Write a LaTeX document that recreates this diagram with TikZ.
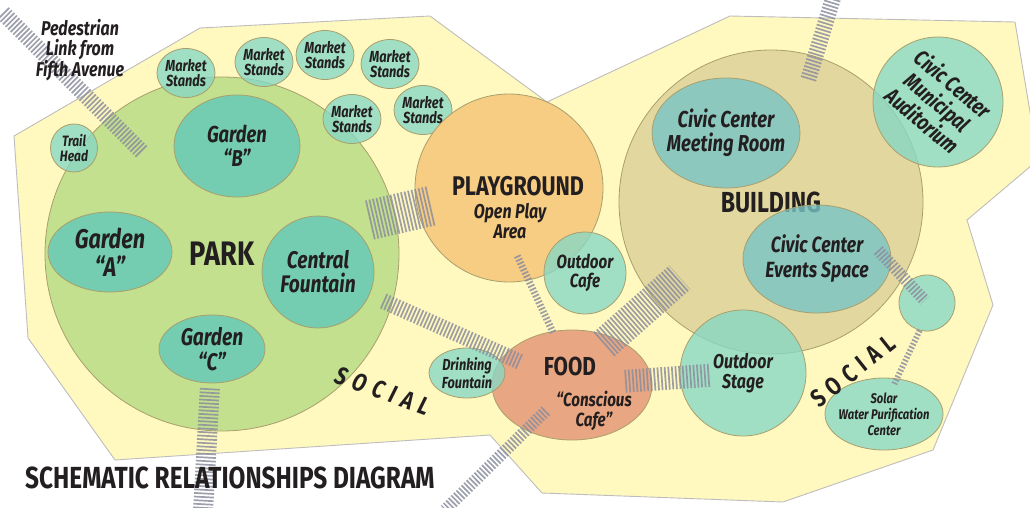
\documentclass[tikz,border=0pt]{standalone}
\usepackage{fontspec}
\setmainfont{Fira Sans}[FakeStretch=0.8]
\usetikzlibrary{shapes.geometric}

\definecolor{lotyellow}{HTML}{FFF8BF}
\definecolor{lotline}{HTML}{BDBDBD}
\definecolor{parkgreen}{HTML}{C2E08D}
\definecolor{gardenteal}{HTML}{74CDB0}
\definecolor{spotteal}{HTML}{86D8C6}
\definecolor{roomteal}{HTML}{79C5C7}
\definecolor{playorange}{HTML}{F7CC83}
\definecolor{buildtan}{HTML}{DCD29A}
\definecolor{foodsalmon}{HTML}{E9A682}
\definecolor{rimolive}{HTML}{A99F6C}
\definecolor{hatchgray}{HTML}{8C8E9E}
\definecolor{inkdark}{HTML}{231F20}

\newcommand{\fsz}[2]{\fontsize{#1}{#2}\selectfont}
\newcommand{\gap}{\hspace{7pt}}

\begin{document}
\begin{tikzpicture}[x=1pt, y=-1pt,
        rim/.style={draw=rimolive, line width=0.8pt},
        spot/.style={rim, ellipse, fill=spotteal, fill opacity=0.78, text opacity=1,
            inner sep=-20pt, align=center, text=inkdark},
        room/.style={spot, fill=roomteal, fill opacity=0.8},
        garden/.style={spot, fill=gardenteal, fill opacity=1},
        stand/.style={spot, minimum width=58pt, minimum height=49pt,
            font=\bfseries\itshape\fsz{16}{15}},
        lbl/.style={text=inkdark, align=center, inner sep=0pt},
        stripes/.style={draw=hatchgray, draw opacity=0.85, line width=#1,
            dash pattern=on 1.7pt off 1.9pt}]
\useasboundingbox (0,0) rectangle (1030,508);

% site outline
\draw[lotline, fill=lotyellow, line width=0.9pt] (14,136) -- (200,28) -- (430,16) -- (547,102)
    -- (730,16) -- (1015,22) -- (1038,160) -- (967,220) -- (993,305) -- (933,450)
    -- (783,502) -- (542,493) -- (490,435) -- (115,460) -- (28,338) -- cycle;

% park
\node[rim, circle, fill=parkgreen, minimum size=354pt, inner sep=0pt, text=inkdark,
    font=\bfseries\fsz{34}{34}] (park) at (222,254) {PARK};
\node[garden, minimum width=126pt, minimum height=102pt, font=\bfseries\itshape\fsz{23}{24}]
    (gardenB) at (237,146) {Garden\\``B''};
\node[garden, minimum width=124pt, minimum height=80pt, font=\bfseries\itshape\fsz{27}{28}]
    (gardenA) at (110,252) {Garden\\``A''};
\node[garden, minimum width=112pt, minimum height=112pt, font=\bfseries\itshape\fsz{24}{24}]
    (fountain) at (318,272) {Central\\Fountain};
\node[garden, minimum width=106pt, minimum height=68pt, font=\bfseries\itshape\fsz{24}{25}]
    (gardenC) at (212,349) {Garden\\``C''};
\node[spot, minimum width=47pt, minimum height=48pt, font=\bfseries\itshape\fsz{15}{15}]
    (trail) at (74,148) {Trail\\Head};

% market stands
\node[stand] (stand1) at (186,73) {Market\\Stands};
\node[stand] (stand2) at (264,62) {Market\\Stands};
\node[stand] (stand3) at (325,55) {Market\\Stands};
\node[stand] (stand4) at (390,64) {Market\\Stands};
\node[stand] (stand5) at (352,119) {Market\\Stands};
\node[stand] (stand6) at (423,110) {Market\\Stands};

% playground and building
\node[rim, circle, fill=playorange, minimum size=188pt, inner sep=0pt] (play) at (509,188) {};
\node[spot, minimum width=82pt, minimum height=82pt, font=\bfseries\itshape\fsz{19}{19}]
    (cafe) at (585,273) {Outdoor\\Cafe};
\node[rim, circle, fill=buildtan, fill opacity=0.85, text opacity=1, minimum size=304pt,
    inner sep=0pt, text=inkdark, font=\bfseries\fsz{29}{29}] (building) at (771,202) {BUILDING};
\node[room, minimum width=148pt, minimum height=110pt, font=\bfseries\itshape\fsz{23}{24}]
    (meeting) at (726,133) {Civic Center\\Meeting Room};
\node[room, minimum width=148pt, minimum height=108pt, font=\bfseries\itshape\fsz{22}{25}]
    (events) at (817,259) {Civic Center\\Events Space};
\node[spot, minimum width=130pt, minimum height=130pt, rotate=-40,
    font=\bfseries\itshape\fsz{22}{24}] (audit) at (938,102) {Civic Center\\Municipal\\Auditorium};
\node[spot, minimum width=56pt, minimum height=56pt] (relay) at (927,303) {};
\node[spot, minimum width=126pt, minimum height=126pt, font=\bfseries\itshape\fsz{20}{20}]
    (stage) at (743,373) {Outdoor\\Stage};

% food
\node[rim, ellipse, fill=foodsalmon, minimum width=160pt, minimum height=110pt,
    inner sep=0pt] (food) at (572,385) {};
\node[spot, minimum width=76pt, minimum height=50pt, font=\bfseries\itshape\fsz{16}{16}]
    (drink) at (467,373) {Drinking\\Fountain};
\node[spot, minimum width=118pt, minimum height=72pt, font=\bfseries\itshape\fsz{14}{16}]
    (solar) at (884,414) {Solar\\Water Purification\\Center};

% links
\coordinate (pedOut) at (3,13);
\coordinate (pedIn) at (143,153);
\coordinate (gcOut) at (203,512);
\coordinate (foodOut) at (445,510);
\coordinate (bldgOut) at (834,-5);
\draw[stripes=16pt] (pedOut) -- (pedIn);
\draw[stripes=40pt, shorten <=-26pt, shorten >=-15pt] (park) -- (play);
\draw[stripes=16pt, shorten <=15pt, shorten >=-17pt] (fountain) -- (food);
\draw[stripes=20pt, shorten <=5pt] (gardenC) -- (gcOut);
\draw[stripes=7pt, shorten <=-27pt, shorten >=-3pt] (play.-78) -- (food.110);
\draw[stripes=32pt, shorten <=-11pt, shorten >=-34pt] (food.50) -- (building.220);
\draw[stripes=23pt, shorten <=-27pt, shorten >=-30pt] (food) -- (stage);
\draw[stripes=12pt, shorten <=-28pt] (food) -- (foodOut);
\draw[stripes=16pt, shorten >=-24pt] (bldgOut) -- (building);
\draw[stripes=12pt, shorten <=-19pt, shorten >=-25pt] (events.-4) -- (relay);
\draw[stripes=6pt, shorten >=-6pt] (relay.-105) -- (solar.70);

% labels
\node[lbl, font=\bfseries\fsz{27}{27}] (playTitle) at (518,186) {PLAYGROUND};
\node[lbl, font=\bfseries\itshape\fsz{20}{20}] (playSub) at (510,221) {Open Play\\Area};
\node[lbl, font=\bfseries\fsz{26}{26}] (foodTitle) at (570,366) {FOOD};
\node[lbl, font=\bfseries\itshape\fsz{19}{20}] (foodSub) at (594,411) {``Conscious\\Cafe''};
\node[lbl, font=\bfseries\itshape\fsz{20}{20}] (pedTitle) at (80,50) {Pedestrian\\Link from\\Fifth Avenue};
\node[lbl, rotate=-20, font=\bfseries\itshape\fsz{25}{25}] (socialWest) at (383,391)
    {S\gap O\gap C\gap I\gap A\gap L};
\node[lbl, rotate=38.5, font=\bfseries\fsz{25}{25}] (socialEast) at (853,371)
    {S\gap O\gap C\gap I\gap A\gap L};
\node[lbl, anchor=west, font=\bfseries\fsz{30.5}{31}] (title) at (25,478)
    {SCHEMATIC RELATIONSHIPS DIAGRAM};
\end{tikzpicture}
\end{document}
